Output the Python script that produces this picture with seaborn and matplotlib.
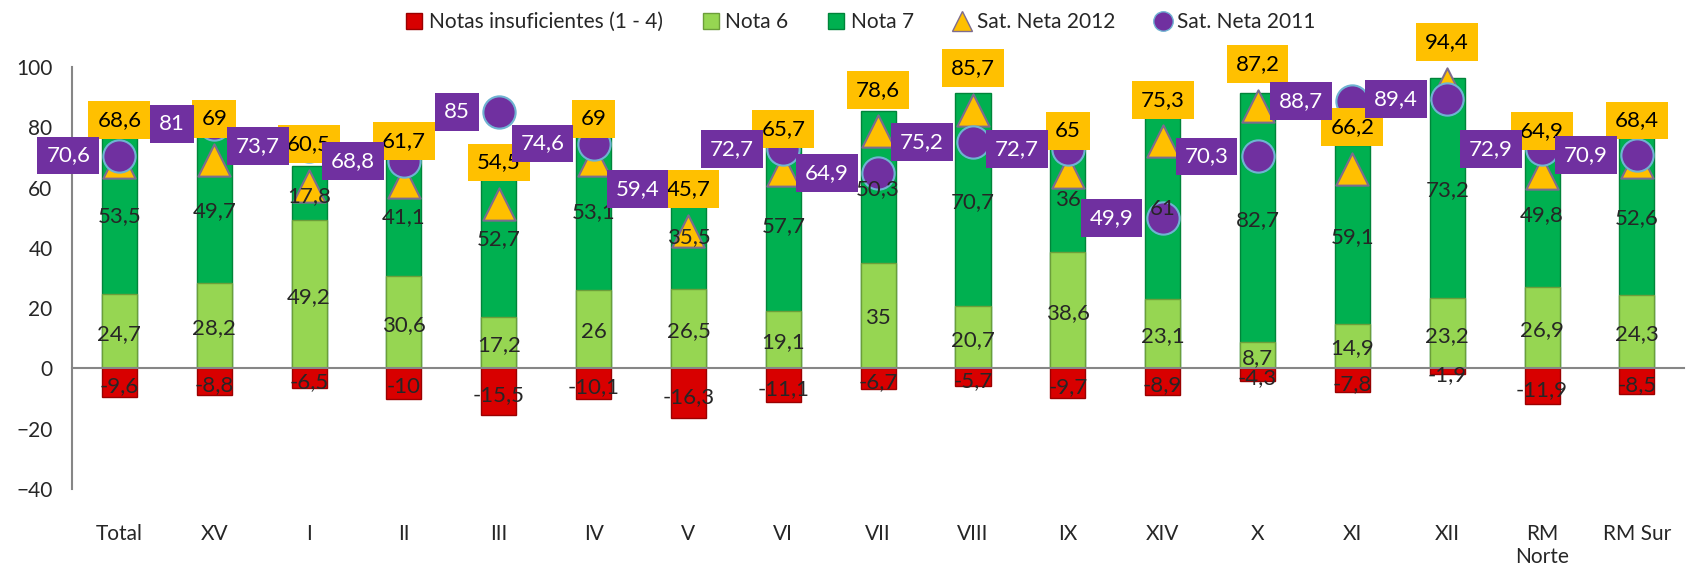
import matplotlib
matplotlib.use('Agg')
import matplotlib.pyplot as plt
from matplotlib.lines import Line2D
import seaborn as sns
import pandas as pd
import numpy as np

# Datos del grafico
categorias = ['Total', 'XV', 'I', 'II', 'III', 'IV', 'V', 'VI', 'VII', 'VIII',
              'IX', 'XIV', 'X', 'XI', 'XII', 'RM\nNorte', 'RM Sur']
insuficientes = [-9.6, -8.8, -6.5, -10, -15.5, -10.1, -16.3, -11.1, -6.7, -5.7,
                 -9.7, -8.9, -4.3, -7.8, -1.9, -11.9, -8.5]
nota6 = [24.7, 28.2, 49.2, 30.6, 17.2, 26, 26.5, 19.1, 35, 20.7,
         38.6, 23.1, 8.7, 14.9, 23.2, 26.9, 24.3]
nota7 = [53.5, 49.7, 17.8, 41.1, 52.7, 53.1, 35.5, 57.7, 50.3, 70.7,
         36, 61, 82.7, 59.1, 73.2, 49.8, 52.6]
sat2012 = [68.6, 69, 60.5, 61.7, 54.5, 69, 45.7, 65.7, 78.6, 85.7,
           65, 75.3, 87.2, 66.2, 94.4, 64.9, 68.4]
sat2011 = [70.6, 81, 73.7, 68.8, 85, 74.6, 59.4, 72.7, 64.9, 75.2,
           72.7, 49.9, 70.3, 88.7, 89.4, 72.9, 70.9]

df = pd.DataFrame({'region': categorias, 'insuf': insuficientes,
                   'n6': nota6, 'n7': nota7})
df['tot'] = df['n6'] + df['n7']

sns.set_style('white')
plt.rcParams['font.family'] = ['Lato', 'DejaVu Sans']

rojo, verde_claro, verde = '#D80000', '#96D652', '#00B050'
amarillo, morado = '#FFC000', '#7030A0'


def fmt(v):
    return f'{v:g}'.replace('.', ',')


fig = plt.figure(figsize=(16.86, 5.72), dpi=100)
ax = fig.add_axes([72 / 1686, 0.145, 1 - 72 / 1686 - 0.001, 0.738])

# Barras apiladas (Nota 7 encima de Nota 6)
ancho = 0.37
sns.barplot(data=df, x='region', y='tot', color=verde, saturation=1, width=ancho,
            edgecolor='#00843A', linewidth=1, errorbar=None, ax=ax)
sns.barplot(data=df, x='region', y='n6', color=verde_claro, saturation=1, width=ancho,
            edgecolor='#6C9E3A', linewidth=1, errorbar=None, ax=ax)
sns.barplot(data=df, x='region', y='insuf', color=rojo, saturation=1, width=ancho,
            edgecolor='#9A0000', linewidth=1, errorbar=None, ax=ax)

# Marcadores de satisfaccion
sns.scatterplot(x=categorias, y=sat2012, marker='^', s=540, color=amarillo,
                edgecolor='#7E6C8E', linewidth=1.5, zorder=4, legend=False, ax=ax)
sns.scatterplot(x=categorias, y=sat2011, marker='o', s=540, color=morado,
                edgecolor='#6FB3D2', linewidth=1.5, zorder=5, legend=False, ax=ax)

# Etiquetas de barras
for i in range(len(categorias)):
    ax.text(i, nota6[i] / 2 - 0.8, fmt(nota6[i]), ha='center', va='center',
            fontsize=16, zorder=6)
    ax.text(i, nota6[i] + nota7[i] / 2 - 0.8, fmt(nota7[i]), ha='center',
            va='center', fontsize=16, zorder=6)
    ax.text(i, insuficientes[i] / 2 - 1.2, fmt(insuficientes[i]), ha='center',
            va='center', fontsize=16, zorder=6)

# Etiquetas de satisfaccion
for i in range(len(categorias)):
    ax.annotate(fmt(sat2012[i]), (i, sat2012[i]), xytext=(0, 30),
                textcoords='offset points', ha='center', va='center', fontsize=16,
                color='black', zorder=7,
                bbox=dict(boxstyle='square,pad=0.4', fc=amarillo, ec='none'))
for i in range(len(categorias)):
    ax.annotate(fmt(sat2011[i]), (i, sat2011[i]), xytext=(-21, 0),
                textcoords='offset points', ha='right', va='center', fontsize=16,
                color='white', zorder=8,
                bbox=dict(boxstyle='square,pad=0.4', fc=morado, ec='none'))

# Ejes
ax.set_ylim(-40, 100)
ax.set_xlim(-0.5, len(categorias) - 0.5)
ax.set_yticks(range(-40, 101, 20))
ax.set_xticks(range(len(categorias)))
ax.set_xticklabels(categorias)
ax.set_xticks(np.arange(0.5, len(categorias), 1), minor=True)
ax.set_xlabel('')
ax.set_ylabel('')
for s in ['top', 'right']:
    ax.spines[s].set_visible(False)
ax.spines['bottom'].set_position(('data', 0))
for s in ['left', 'bottom']:
    ax.spines[s].set_color('#868686')
    ax.spines[s].set_linewidth(1.5)
ax.tick_params(axis='x', which='major', length=0, pad=112, labelsize=15)
ax.tick_params(axis='x', which='minor', length=6, width=1.5, color='#868686',
               direction='out')
ax.tick_params(axis='y', length=6, width=1.5, color='#868686', direction='out',
               labelsize=15, pad=8)

# Leyenda
handles = [
    Line2D([], [], marker='s', linestyle='none', markerfacecolor=rojo,
           markeredgecolor='#9A0000', markersize=12),
    Line2D([], [], marker='s', linestyle='none', markerfacecolor=verde_claro,
           markeredgecolor='#6C9E3A', markersize=12),
    Line2D([], [], marker='s', linestyle='none', markerfacecolor=verde,
           markeredgecolor='#00843A', markersize=12),
    Line2D([], [], marker='^', linestyle='none', markerfacecolor=amarillo,
           markeredgecolor='#7E6C8E', markersize=15),
    Line2D([], [], marker='o', linestyle='none', markerfacecolor=morado,
           markeredgecolor='#6FB3D2', markersize=14),
]
etiquetas = ['Notas insuficientes (1 - 4)', 'Nota 6', 'Nota 7',
             'Sat. Neta 2012', 'Sat. Neta 2011']
fig.legend(handles, etiquetas, loc='upper center', bbox_to_anchor=(0.51, 1.012),
           ncol=5, frameon=False, fontsize=15, handlelength=1, handletextpad=0.2,
           columnspacing=1.8)

fig.savefig('out.png', dpi=100)
